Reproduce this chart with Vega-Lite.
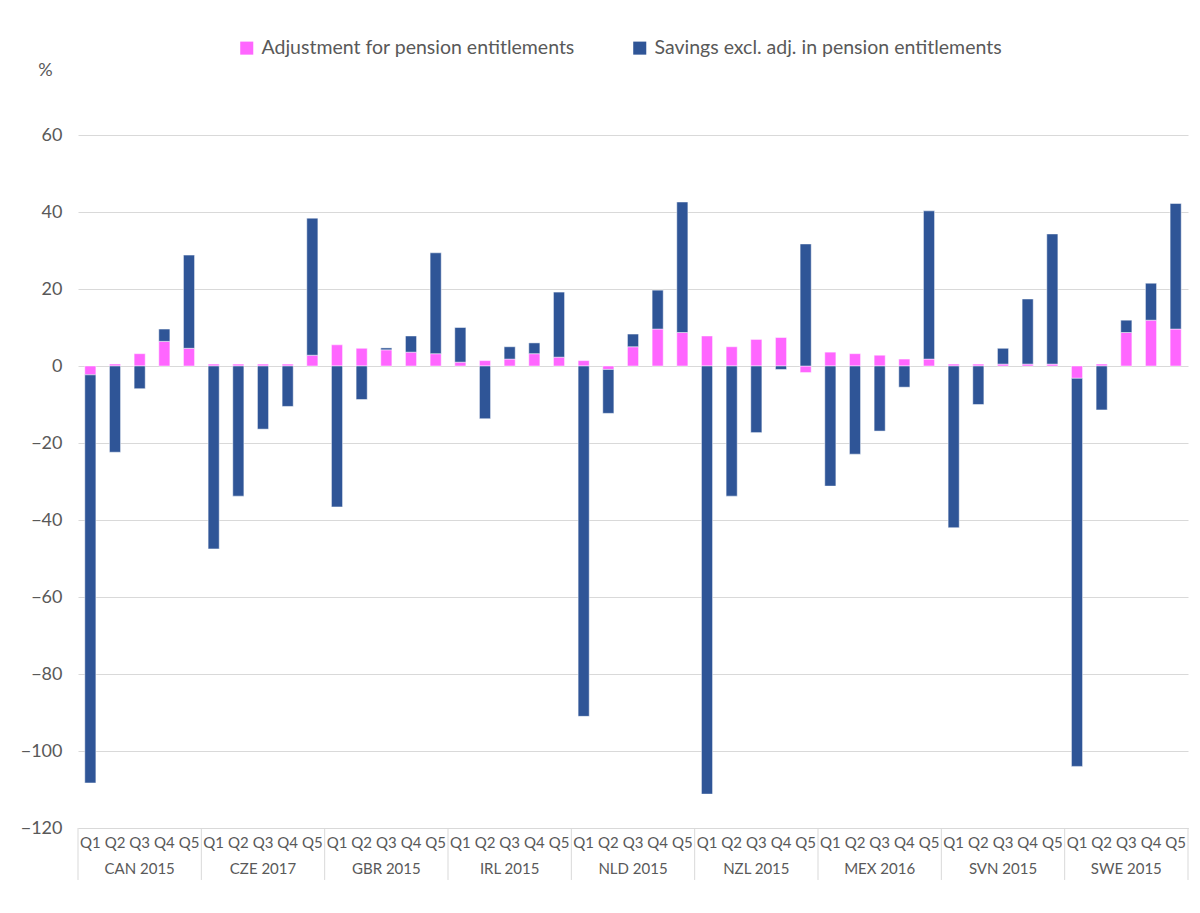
{
  "$schema": "https://vega.github.io/schema/vega-lite/v6.json",
  "width": 1110,
  "height": 693,
  "autosize": {"type": "none"},
  "padding": {"left": 78, "top": 135, "right": 12, "bottom": 85},
  "background": "white",
  "config": {"font": "Lato", "view": {"stroke": null}},
  "data": {
    "values": [
      {"k": "CAN 2015|Q1", "g": "CAN 2015", "q": "Q1", "a": -2.3, "b": -106.0},
      {"k": "CAN 2015|Q2", "g": "CAN 2015", "q": "Q2", "a": 0.5, "b": -22.4},
      {"k": "CAN 2015|Q3", "g": "CAN 2015", "q": "Q3", "a": 3.2, "b": -5.9},
      {"k": "CAN 2015|Q4", "g": "CAN 2015", "q": "Q4", "a": 6.4, "b": 3.2},
      {"k": "CAN 2015|Q5", "g": "CAN 2015", "q": "Q5", "a": 4.6, "b": 24.2},
      {"k": "CZE 2017|Q1", "g": "CZE 2017", "q": "Q1", "a": 0.5, "b": -47.5},
      {"k": "CZE 2017|Q2", "g": "CZE 2017", "q": "Q2", "a": 0.5, "b": -33.8},
      {"k": "CZE 2017|Q3", "g": "CZE 2017", "q": "Q3", "a": 0.5, "b": -16.4},
      {"k": "CZE 2017|Q4", "g": "CZE 2017", "q": "Q4", "a": 0.5, "b": -10.5},
      {"k": "CZE 2017|Q5", "g": "CZE 2017", "q": "Q5", "a": 2.8, "b": 35.6},
      {"k": "GBR 2015|Q1", "g": "GBR 2015", "q": "Q1", "a": 5.5, "b": -36.6},
      {"k": "GBR 2015|Q2", "g": "GBR 2015", "q": "Q2", "a": 4.6, "b": -8.7},
      {"k": "GBR 2015|Q3", "g": "GBR 2015", "q": "Q3", "a": 4.2, "b": 0.5},
      {"k": "GBR 2015|Q4", "g": "GBR 2015", "q": "Q4", "a": 3.6, "b": 4.2},
      {"k": "GBR 2015|Q5", "g": "GBR 2015", "q": "Q5", "a": 3.2, "b": 26.2},
      {"k": "IRL 2015|Q1", "g": "IRL 2015", "q": "Q1", "a": 1.0, "b": 9.0},
      {"k": "IRL 2015|Q2", "g": "IRL 2015", "q": "Q2", "a": 1.4, "b": -13.7},
      {"k": "IRL 2015|Q3", "g": "IRL 2015", "q": "Q3", "a": 1.8, "b": 3.2},
      {"k": "IRL 2015|Q4", "g": "IRL 2015", "q": "Q4", "a": 3.2, "b": 2.8},
      {"k": "IRL 2015|Q5", "g": "IRL 2015", "q": "Q5", "a": 2.3, "b": 16.9},
      {"k": "NLD 2015|Q1", "g": "NLD 2015", "q": "Q1", "a": 1.4, "b": -91.0},
      {"k": "NLD 2015|Q2", "g": "NLD 2015", "q": "Q2", "a": -0.9, "b": -11.4},
      {"k": "NLD 2015|Q3", "g": "NLD 2015", "q": "Q3", "a": 5.0, "b": 3.3},
      {"k": "NLD 2015|Q4", "g": "NLD 2015", "q": "Q4", "a": 9.6, "b": 10.1},
      {"k": "NLD 2015|Q5", "g": "NLD 2015", "q": "Q5", "a": 8.7, "b": 33.9},
      {"k": "NZL 2015|Q1", "g": "NZL 2015", "q": "Q1", "a": 7.8, "b": -111.2},
      {"k": "NZL 2015|Q2", "g": "NZL 2015", "q": "Q2", "a": 5.0, "b": -33.8},
      {"k": "NZL 2015|Q3", "g": "NZL 2015", "q": "Q3", "a": 6.9, "b": -17.3},
      {"k": "NZL 2015|Q4", "g": "NZL 2015", "q": "Q4", "a": 7.4, "b": -0.9},
      {"k": "NZL 2015|Q5", "g": "NZL 2015", "q": "Q5", "a": -1.7, "b": 31.7},
      {"k": "MEX 2016|Q1", "g": "MEX 2016", "q": "Q1", "a": 3.6, "b": -31.2},
      {"k": "MEX 2016|Q2", "g": "MEX 2016", "q": "Q2", "a": 3.2, "b": -22.9},
      {"k": "MEX 2016|Q3", "g": "MEX 2016", "q": "Q3", "a": 2.8, "b": -16.9},
      {"k": "MEX 2016|Q4", "g": "MEX 2016", "q": "Q4", "a": 1.8, "b": -5.5},
      {"k": "MEX 2016|Q5", "g": "MEX 2016", "q": "Q5", "a": 1.8, "b": 38.5},
      {"k": "SVN 2015|Q1", "g": "SVN 2015", "q": "Q1", "a": 0.5, "b": -42.0},
      {"k": "SVN 2015|Q2", "g": "SVN 2015", "q": "Q2", "a": 0.5, "b": -10.0},
      {"k": "SVN 2015|Q3", "g": "SVN 2015", "q": "Q3", "a": 0.5, "b": 4.1},
      {"k": "SVN 2015|Q4", "g": "SVN 2015", "q": "Q4", "a": 0.5, "b": 16.9},
      {"k": "SVN 2015|Q5", "g": "SVN 2015", "q": "Q5", "a": 0.5, "b": 33.8},
      {"k": "SWE 2015|Q1", "g": "SWE 2015", "q": "Q1", "a": -3.2, "b": -100.8},
      {"k": "SWE 2015|Q2", "g": "SWE 2015", "q": "Q2", "a": 0.5, "b": -11.4},
      {"k": "SWE 2015|Q3", "g": "SWE 2015", "q": "Q3", "a": 8.7, "b": 3.2},
      {"k": "SWE 2015|Q4", "g": "SWE 2015", "q": "Q4", "a": 11.9, "b": 9.6},
      {"k": "SWE 2015|Q5", "g": "SWE 2015", "q": "Q5", "a": 9.6, "b": 32.6}
    ]
  },
  "layer": [
    {
      "transform": [{"fold": ["a", "b"], "as": ["series", "value"]}],
      "mark": {"type": "bar", "width": {"band": 0.45}, "stroke": "white", "strokeWidth": 0.8, "strokeOpacity": 0.6},
      "encoding": {
        "x": {
          "field": "k", "type": "nominal", "sort": null,
          "scale": {"paddingInner": 0, "paddingOuter": 0},
          "axis": {
            "title": null, "labelExpr": "split(datum.value, '|')[1]", "labelAngle": 0,
            "ticks": false, "grid": false, "domainColor": "#d9d9d9", "domainWidth": 1,
            "labelFont": "Lato", "labelFontSize": 15, "labelColor": "#595959", "labelPadding": 7
          }
        },
        "y": {
          "field": "value", "type": "quantitative", "stack": "zero",
          "scale": {"domain": [-120, 60], "nice": false, "zero": false},
          "axis": {
            "title": "%", "titleAngle": 0, "titleX": -33, "titleY": -65, "titleAlign": "center",
            "titleBaseline": "middle", "titleFont": "Lato", "titleFontSize": 18, "titleFontWeight": "normal",
            "titleColor": "#595959",
            "values": [-120, -100, -80, -60, -40, -20, 0, 20, 40, 60],
            "labelFont": "Lato", "labelFontSize": 18, "labelColor": "#595959", "labelPadding": 16,
            "domain": false, "ticks": false, "gridColor": "#d9d9d9", "gridWidth": 1
          }
        },
        "order": {"field": "series", "sort": "ascending"},
        "color": {
          "field": "series", "type": "nominal",
          "scale": {"domain": ["a", "b"], "range": ["#FF66FF", "#2F5597"]},
          "legend": {
            "orient": "none", "legendX": 159, "legendY": -97, "direction": "horizontal", "title": null,
            "symbolType": "square", "symbolSize": 170, "symbolStrokeWidth": 0,
            "labelFont": "Lato", "labelFontSize": 19.5, "labelColor": "#595959", "labelOffset": 5,
            "columnPadding": 55, "labelLimit": 500,
            "labelExpr": "datum.label == 'a' ? 'Adjustment for pension entitlements' : 'Savings excl. adj. in pension entitlements'"
          }
        }
      }
    },
    {
      "transform": [{"filter": "datum.q == 'Q1'"}],
      "mark": {"type": "rule", "color": "#d9d9d9", "strokeWidth": 1, "clip": false},
      "encoding": {
        "x": {"field": "k", "type": "nominal", "sort": null, "bandPosition": 0},
        "y": {"datum": -120},
        "y2": {"datum": -133.5}
      }
    },
    {
      "transform": [{"filter": "datum.k == 'SWE 2015|Q5'"}],
      "mark": {"type": "rule", "color": "#d9d9d9", "strokeWidth": 1, "clip": false},
      "encoding": {
        "x": {"field": "k", "type": "nominal", "sort": null, "bandPosition": 1},
        "y": {"datum": -120},
        "y2": {"datum": -133.5}
      }
    },
    {
      "transform": [{"filter": "datum.q == 'Q3'"}],
      "mark": {"type": "text", "font": "Lato", "fontSize": 15, "color": "#595959", "baseline": "middle", "align": "center", "clip": false},
      "encoding": {
        "x": {"field": "k", "type": "nominal", "sort": null},
        "y": {"datum": -130.6},
        "text": {"field": "g", "type": "nominal"}
      }
    }
  ]
}
